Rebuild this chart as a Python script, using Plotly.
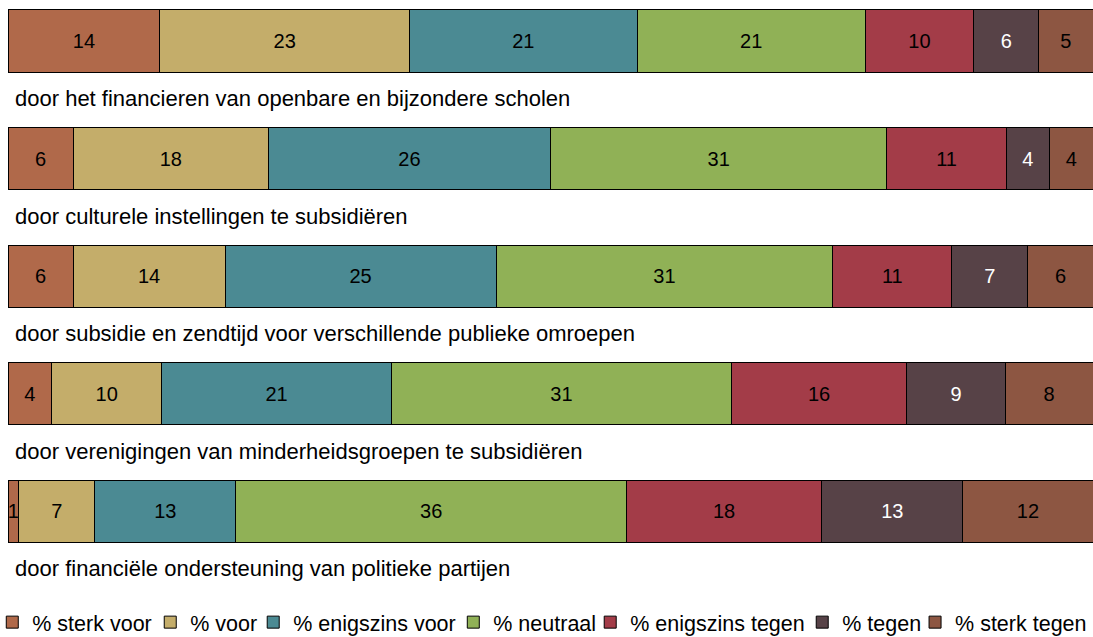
import plotly.graph_objects as go

# ── Data ─────────────────────────────────────────────────────────────────────
questions = [
    "door het financieren van openbare en bijzondere scholen",
    "door culturele instellingen te subsidiëren",
    "door subsidie en zendtijd voor verschillende publieke omroepen",
    "door verenigingen van minderheidsgroepen te subsidiëren",
    "door financiële ondersteuning van politieke partijen",
]
series = ["% sterk voor", "% voor", "% enigszins voor", "% neutraal",
          "% enigszins tegen", "% tegen", "% sterk tegen"]

# shown (rounded) values per answer category, one entry per question
sterk_voor      = [14, 6, 6, 4, 1]
voor            = [23, 18, 14, 10, 7]
enigszins_voor  = [21, 26, 25, 21, 13]
neutraal        = [21, 31, 31, 31, 36]
enigszins_tegen = [10, 11, 11, 16, 18]
tegen           = [6, 4, 7, 9, 13]
sterk_tegen     = [5, 4, 6, 8, 12]

values = [sterk_voor, voor, enigszins_voor, neutraal,
          enigszins_tegen, tegen, sterk_tegen]

# ── Style ────────────────────────────────────────────────────────────────────
colors = ["#b0694a", "#c4ad6a", "#4b8a93", "#90b156",
          "#a33c48", "#574247", "#8d5642"]
text_colors = ["black", "black", "black", "black", "black", "white", "black"]
# legend positions (paper x) so each entry sits where the original one does
legend_x = [-0.0145, 0.1311, 0.2260, 0.4104, 0.5366, 0.7320, 0.8360]

FONT = "Liberation Sans, Arial, Helvetica, sans-serif"

fig = go.Figure()
ypos = list(range(len(questions)))
for k, (name, vals, col, tcol) in enumerate(zip(series, values, colors, text_colors)):
    fig.add_trace(go.Bar(
        x=vals, y=ypos, name=name, orientation="h",
        width=0.528,
        marker=dict(color=col, line=dict(color="black", width=1)),
        text=[str(v) for v in vals],
        textposition="inside", insidetextanchor="middle", textangle=0,
        textfont=dict(family=FONT, size=20, color=tcol),
        hoverinfo="x+name",
        legend="legend" if k == 0 else f"legend{k + 1}",
    ))

for i, q in enumerate(questions):
    fig.add_annotation(
        x=0, y=i + 0.49, xref="x", yref="y",
        text=q, showarrow=False, xanchor="left", yanchor="middle",
        xshift=5, font=dict(family=FONT, size=22, color="black"),
    )

legends = {}
for k, lx in enumerate(legend_x):
    key = "legend" if k == 0 else f"legend{k + 1}"
    legends[key] = dict(
        orientation="h", x=lx, xanchor="left", y=-0.0545, yanchor="middle",
        font=dict(family=FONT, size=21.5, color="black"),
        itemwidth=30, bgcolor="rgba(0,0,0,0)",
    )

fig.update_layout(
    width=1093, height=637,
    barmode="stack", barnorm="percent",
    paper_bgcolor="white", plot_bgcolor="white",
    margin=dict(l=8, r=0, t=0, b=47, autoexpand=False),
    font=dict(family=FONT, size=20, color="black"),
    uniformtext=dict(minsize=20, mode="show"),
    showlegend=True,
    xaxis=dict(range=[0, 100], visible=False, fixedrange=True),
    yaxis=dict(range=[4.672, -0.349], visible=False, fixedrange=True),
    **legends,
)

# drop the default page margin so the figure fills the window exactly
fig.write_html("out.html", config={"displayModeBar": False},
               post_script="document.body.style.margin='0px';")
